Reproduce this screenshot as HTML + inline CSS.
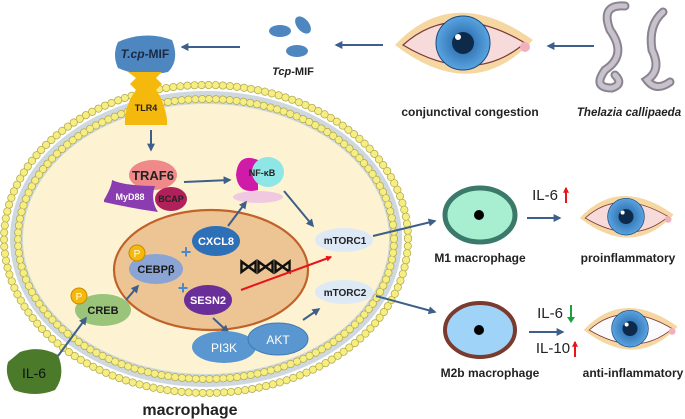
<!DOCTYPE html>
<html><head><meta charset="utf-8"><style>
html,body{margin:0;padding:0;background:#fff;}
svg{display:block;font-family:"Liberation Sans",Arial,sans-serif;}
</style></head><body>
<svg width="685" height="419" viewBox="0 0 685 419" xmlns="http://www.w3.org/2000/svg">
<defs>
<marker id="ar" viewBox="0 0 10 10" refX="8" refY="5" markerWidth="4" markerHeight="4" orient="auto"><path d="M0,0 L10,5 L0,10 Z" fill="#3e5f8a"/></marker>
<marker id="arr" viewBox="0 0 10 10" refX="8" refY="5" markerWidth="3" markerHeight="3" orient="auto"><path d="M0,0 L10,5 L0,10 Z" fill="#e8141a"/></marker>
<radialGradient id="iris"><stop offset="0" stop-color="#1f5fa0"/><stop offset="1" stop-color="#5aa4e0"/></radialGradient>
<g id="eye">
<path d="M-68,0 Q-10,-62 70,-5 Q10,60 -68,0 Z" fill="#f6d7a2"/>
<path d="M-60,0 Q-10,-45 62,-2 Q10,42 -60,0 Z" fill="#f7dada" stroke="#7a3a3a" stroke-width="1.2"/>
<circle cx="62" cy="2" r="5" fill="#f2b0bc"/>
<circle cx="0" cy="-2" r="27" fill="url(#iris)" stroke="#1a4a80" stroke-width="1"/>
<circle cx="0" cy="-2" r="11" fill="#0d2a4a"/>
<circle cx="-5" cy="-8" r="3" fill="#fff"/>
</g>
<g id="eyeW">
<path d="M-68,0 Q-10,-62 70,-5 Q10,60 -68,0 Z" fill="#f6d7a2"/>
<path d="M-60,0 Q-10,-45 62,-2 Q10,42 -60,0 Z" fill="#fbfbfd" stroke="#7a3a3a" stroke-width="1.2"/>
<circle cx="62" cy="2" r="5" fill="#f2b0bc"/>
<circle cx="0" cy="-2" r="27" fill="url(#iris)" stroke="#1a4a80" stroke-width="1"/>
<circle cx="0" cy="-2" r="11" fill="#0d2a4a"/>
<circle cx="-5" cy="-8" r="3" fill="#fff"/>
</g>
</defs>

<!-- membrane -->
<ellipse cx="206" cy="239" rx="196" ry="148" fill="#cfd8df"/>
<ellipse cx="206" cy="239" rx="202" ry="154" fill="none" stroke="#b0a850" stroke-width="8" stroke-dasharray="0.1 7" stroke-linecap="round"/>
<ellipse cx="206" cy="239" rx="202" ry="154" fill="none" stroke="#f6ee80" stroke-width="6.5" stroke-dasharray="0.1 7" stroke-linecap="round"/>
<ellipse cx="206" cy="239" rx="188" ry="140" fill="none" stroke="#b0a850" stroke-width="8" stroke-dasharray="0.1 6.8" stroke-linecap="round"/>
<ellipse cx="206" cy="239" rx="188" ry="140" fill="none" stroke="#f6ee80" stroke-width="6.5" stroke-dasharray="0.1 6.8" stroke-linecap="round"/>
<ellipse cx="206" cy="239" rx="183" ry="135" fill="#fdf3d2"/>

<!-- nucleus -->
<ellipse cx="211" cy="270" rx="97" ry="60" fill="#edc595" stroke="#c0622a" stroke-width="2.2"/>

<!-- top row -->
<path d="M118,42 Q145,30 172,40 Q180,60 168,72 Q140,78 118,68 Q112,55 118,42 Z" fill="#4e86c0"/>
<text x="145" y="58" font-size="12" font-weight="bold" text-anchor="middle" fill="#1a2a44"><tspan font-style="italic">T.cp</tspan>-MIF</text>
<line x1="240" y1="47" x2="182" y2="47" stroke="#3e5f8a" stroke-width="2" marker-end="url(#ar)"/>
<ellipse cx="280" cy="31" rx="11" ry="6" fill="#4e86c0"/>
<ellipse cx="303" cy="25" rx="6" ry="10" fill="#4e86c0" transform="rotate(-40 303 25)"/>
<ellipse cx="297" cy="51" rx="11" ry="6" fill="#4e86c0"/>
<text x="293" y="75" font-size="11" font-weight="bold" text-anchor="middle" fill="#222"><tspan font-style="italic">Tcp</tspan>-MIF</text>
<line x1="383" y1="45" x2="336" y2="45" stroke="#3e5f8a" stroke-width="2" marker-end="url(#ar)"/>
<use href="#eye" x="463" y="45"/>
<text x="470" y="116" font-size="12" font-weight="bold" text-anchor="middle" fill="#222">conjunctival congestion</text>
<line x1="594" y1="46" x2="548" y2="46" stroke="#3e5f8a" stroke-width="2" marker-end="url(#ar)"/>
<path d="M625,6 Q600,4 610,30 Q628,55 605,70 Q592,88 612,88 Q624,84 615,75" fill="none" stroke="#8a8490" stroke-width="9" stroke-linecap="round"/>
<path d="M625,6 Q600,4 610,30 Q628,55 605,70 Q592,88 612,88 Q624,84 615,75" fill="none" stroke="#c8c2cc" stroke-width="5" stroke-linecap="round"/>
<path d="M663,12 Q648,25 652,50 Q662,70 647,80 Q656,92 670,82" fill="none" stroke="#8a8490" stroke-width="9" stroke-linecap="round"/>
<path d="M663,12 Q648,25 652,50 Q662,70 647,80 Q656,92 670,82" fill="none" stroke="#c8c2cc" stroke-width="5" stroke-linecap="round"/>
<text x="629" y="116" font-size="11.5" font-weight="bold" font-style="italic" text-anchor="middle" fill="#222">Thelazia callipaeda</text>

<!-- TLR4 -->
<path d="M128,72 L162,72 L156,78 L162,84 L156,90 L160,96 Q168,115 167,125 L125,125 Q124,110 132,96 L136,90 L130,84 L136,78 Z" fill="#f5b80c"/>
<text x="146" y="111" font-size="9" font-weight="bold" text-anchor="middle" fill="#222">TLR4</text>
<line x1="151" y1="130" x2="151" y2="150" stroke="#3e5f8a" stroke-width="2" marker-end="url(#ar)"/>

<!-- TRAF6 complex -->
<ellipse cx="153" cy="175" rx="24" ry="15" fill="#f08a8a"/>
<text x="153" y="180" font-size="13" font-weight="bold" text-anchor="middle" fill="#222">TRAF6</text>
<path d="M104,200 Q112,186 112,180 Q125,186 155,186 Q150,200 158,212 Q130,208 104,202 Z" fill="#8a3cb0"/>
<text x="130" y="200" font-size="9" font-weight="bold" text-anchor="middle" fill="#fff">MyD88</text>
<ellipse cx="171" cy="199" rx="16" ry="12" fill="#b0205a"/>
<text x="171" y="202" font-size="9" font-weight="bold" text-anchor="middle" fill="#222">BCAP</text>
<line x1="184" y1="182" x2="230" y2="180" stroke="#3e5f8a" stroke-width="2" marker-end="url(#ar)"/>

<!-- NF-kB -->
<ellipse cx="258" cy="197" rx="25" ry="6" fill="#f0c8e0"/>
<path d="M258,160 Q238,152 236,175 Q238,195 258,190 Z" fill="#d01aa8"/>
<ellipse cx="268" cy="172" rx="16" ry="15" fill="#8ee6e6"/>
<text x="262" y="176" font-size="9" font-weight="bold" text-anchor="middle" fill="#222">NF-κB</text>
<line x1="284" y1="191" x2="313" y2="226" stroke="#3e5f8a" stroke-width="2" marker-end="url(#ar)"/>

<!-- mTORC -->
<ellipse cx="344" cy="240" rx="29" ry="12" fill="#dde9f5"/>
<text x="345" y="244" font-size="10" font-weight="bold" text-anchor="middle" fill="#222">mTORC1</text>
<ellipse cx="344" cy="292" rx="29" ry="12" fill="#dde9f5"/>
<text x="345" y="296" font-size="10" font-weight="bold" text-anchor="middle" fill="#222">mTORC2</text>

<!-- nucleus contents -->
<ellipse cx="216" cy="241" rx="24" ry="15" fill="#2e70b8"/>
<text x="216" y="245" font-size="11" font-weight="bold" text-anchor="middle" fill="#fff">CXCL8</text>
<line x1="228" y1="226" x2="246" y2="202" stroke="#3e5f8a" stroke-width="2" marker-end="url(#ar)"/>
<ellipse cx="156" cy="269" rx="27" ry="15" fill="#8aa4d4"/>
<text x="156" y="273" font-size="11" font-weight="bold" text-anchor="middle" fill="#1a1a1a">CEBPβ</text>
<circle cx="137" cy="253" r="8" fill="#f5b80c" stroke="#c98a00"/>
<text x="137" y="257" font-size="10" text-anchor="middle" fill="#fff">P</text>
<text x="186" y="258" font-size="18" font-weight="bold" text-anchor="middle" fill="#4a8ac8">+</text>
<text x="183" y="294" font-size="18" font-weight="bold" text-anchor="middle" fill="#4a8ac8">+</text>
<ellipse cx="208" cy="300" rx="24" ry="15" fill="#6a2e98"/>
<text x="208" y="304" font-size="11" font-weight="bold" text-anchor="middle" fill="#fff">SESN2</text>
<text x="264" y="273" font-size="20" font-weight="bold" text-anchor="middle" fill="#111" letter-spacing="-3">⋈⋈⋈</text>
<line x1="241" y1="290" x2="331" y2="257" stroke="#e8141a" stroke-width="2" marker-end="url(#arr)"/>

<!-- CREB, IL-6 -->
<ellipse cx="103" cy="310" rx="28" ry="16" fill="#9ac47a"/>
<text x="103" y="314" font-size="11" font-weight="bold" text-anchor="middle" fill="#1a1a1a">CREB</text>
<circle cx="79" cy="296" r="8" fill="#f5b80c" stroke="#c98a00"/>
<text x="79" y="300" font-size="10" text-anchor="middle" fill="#fff">P</text>
<line x1="126" y1="300" x2="138" y2="286" stroke="#3e5f8a" stroke-width="2" marker-end="url(#ar)"/>
<path d="M20,352 Q40,345 58,355 Q66,375 55,390 Q35,398 14,390 Q4,375 8,362 Z" fill="#4a7a2a"/>
<text x="34" y="378" font-size="14" text-anchor="middle" fill="#111">IL-6</text>
<line x1="58" y1="356" x2="86" y2="318" stroke="#3e5f8a" stroke-width="2" marker-end="url(#ar)"/>

<!-- PI3K AKT -->
<line x1="213" y1="318" x2="228" y2="332" stroke="#3e5f8a" stroke-width="2" marker-end="url(#ar)"/>
<ellipse cx="224" cy="347" rx="32" ry="16" fill="#5a97d0"/>
<text x="224" y="352" font-size="12" text-anchor="middle" fill="#fff">PI3K</text>
<ellipse cx="278" cy="339" rx="30" ry="16" fill="#5a97d0" stroke="#3e7ab8"/>
<text x="278" y="344" font-size="12" text-anchor="middle" fill="#fff">AKT</text>
<line x1="303" y1="320" x2="319" y2="309" stroke="#3e5f8a" stroke-width="2" marker-end="url(#ar)"/>

<text x="190" y="415" font-size="16" font-weight="bold" text-anchor="middle" fill="#222">macrophage</text>

<!-- right panel -->
<line x1="373" y1="236" x2="435" y2="221" stroke="#3e5f8a" stroke-width="2" marker-end="url(#ar)"/>
<line x1="376" y1="296" x2="435" y2="312" stroke="#3e5f8a" stroke-width="2" marker-end="url(#ar)"/>
<ellipse cx="480" cy="215" rx="35" ry="27" fill="#a8efd2" stroke="#3b7a6b" stroke-width="5"/>
<circle cx="479" cy="215" r="5" fill="#000"/>
<text x="480" y="262" font-size="12" font-weight="bold" text-anchor="middle" fill="#222">M1 macrophage</text>
<line x1="527" y1="218" x2="560" y2="218" stroke="#3e5f8a" stroke-width="2" marker-end="url(#ar)"/>
<text x="545" y="200" font-size="15" text-anchor="middle" fill="#222">IL-6</text>
<line x1="566" y1="203" x2="566" y2="188" stroke="#e8141a" stroke-width="2" marker-end="url(#arr)"/>
<use href="#eye" transform="translate(626 218) scale(0.68)"/>
<text x="628" y="262" font-size="12" font-weight="bold" text-anchor="middle" fill="#222">proinflammatory</text>

<ellipse cx="480" cy="330" rx="35" ry="27" fill="#9fd3f7" stroke="#7a3a2d" stroke-width="4"/>
<circle cx="479" cy="330" r="5" fill="#000"/>
<text x="490" y="377" font-size="12" font-weight="bold" text-anchor="middle" fill="#222">M2b macrophage</text>
<line x1="529" y1="332" x2="563" y2="332" stroke="#3e5f8a" stroke-width="2" marker-end="url(#ar)"/>
<text x="550" y="318" font-size="15" text-anchor="middle" fill="#222">IL-6</text>
<line x1="571" y1="305" x2="571" y2="319" stroke="#1ca03a" stroke-width="2"/>
<path d="M567,317 L575,317 L571,323 Z" fill="#1ca03a"/>
<text x="553" y="353" font-size="15" text-anchor="middle" fill="#222">IL-10</text>
<line x1="575" y1="357" x2="575" y2="342" stroke="#e8141a" stroke-width="2" marker-end="url(#arr)"/>
<use href="#eyeW" transform="translate(630 330) scale(0.68)"/>
<text x="633" y="377" font-size="12" font-weight="bold" text-anchor="middle" fill="#222">anti-inflammatory</text>
</svg>
</body></html>
